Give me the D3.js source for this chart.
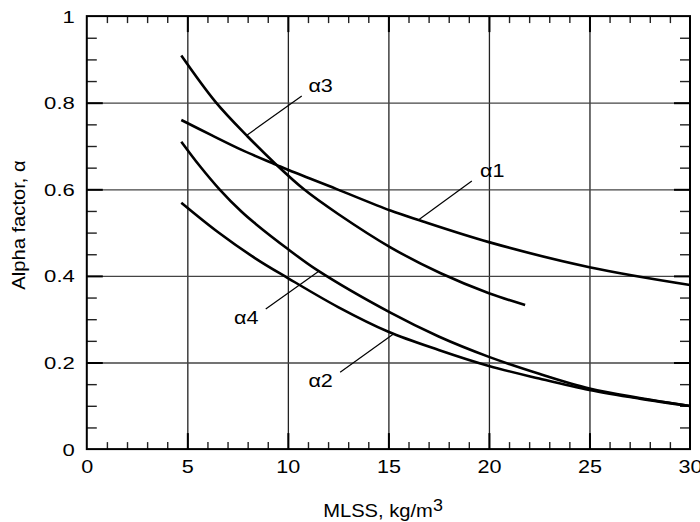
<!DOCTYPE html>
<html><head><meta charset="utf-8">
<script src="https://cdn.jsdelivr.net/npm/d3@7"></script>
<style>
html,body{margin:0;padding:0;background:#fff;}
svg{display:block;}
text{font-family:"Liberation Sans",Arial,Helvetica,sans-serif;fill:#000;}
</style></head><body>
<svg id="chart" width="700" height="522"></svg>
<script>
// ---- data ----
const xTicksMajor = [0, 5, 10, 15, 20, 25, 30];
const xTickLabels = ["0", "5", "10", "15", "20", "25", "30"];
const yTicksMajor = [0, 0.2, 0.4, 0.6, 0.8, 1];
const yTickLabels = ["0", "0.2", "0.4", "0.6", "0.8", "1"];

const mlssA1 = [4.7, 6.2, 7.7, 9.4, 10, 12.4, 15.1, 16.5, 20, 25, 30];
const alphaA1 = [0.760, 0.725, 0.691, 0.657, 0.645, 0.601, 0.551, 0.529, 0.478, 0.420, 0.379];
const mlssA2 = [4.7, 6.5, 8.4, 10, 12.5, 15, 17.5, 20, 22.5, 25, 27.5, 30];
const alphaA2 = [0.569, 0.502, 0.440, 0.395, 0.328, 0.271, 0.229, 0.192, 0.163, 0.1365, 0.1165, 0.0995];
const mlssA3 = [4.7, 6.4, 8, 9.4, 10.8, 12.5, 15.1, 17.6, 20, 21.8];
const alphaA3 = [0.909, 0.802, 0.722, 0.658, 0.600, 0.543, 0.466, 0.406, 0.360, 0.333];
const mlssA4 = [4.7, 5.6, 6.6, 7.7, 8.4, 10, 11.5, 15.1, 17.5, 20, 22.5, 25, 27.5, 30];
const alphaA4 = [0.710, 0.655, 0.600, 0.548, 0.520, 0.462, 0.412, 0.315, 0.260, 0.213, 0.174, 0.140, 0.118, 0.0995];

const seriesNames = ["α1", "α2", "α3", "α4"];
const xTitle = "MLSS, kg/m";
const xTitleSup = "3";
const yTitle = "Alpha factor, α";

// ---- layout ----
const L = 86.8, R = 690, T = 16.1, B = 449.1;
const svg = d3.select("#chart");
const x = d3.scaleLinear().domain([0, 30]).range([L, R]);
const y = d3.scaleLinear().domain([0, 1]).range([B, T]);

const series = [
  {name: seriesNames[0], xs: mlssA1, ys: alphaA1},
  {name: seriesNames[1], xs: mlssA2, ys: alphaA2},
  {name: seriesNames[2], xs: mlssA3, ys: alphaA3},
  {name: seriesNames[3], xs: mlssA4, ys: alphaA4}
];

// annotation placement (data units): label anchor, leader start, leader end
const annot = {
  "α1": {tx: 19.56, ty: 0.629, x1: 19.15, y1: 0.619, x2: 16.49, y2: 0.529},
  "α2": {tx: 11.02, ty: 0.1427, x1: 12.6, y1: 0.1774, x2: 15.25, y2: 0.266},
  "α3": {tx: 11.02, ty: 0.824, x1: 10.69, y1: 0.8155, x2: 7.96, y2: 0.725},
  "α4": {tx: 7.32, ty: 0.289, x1: 8.9, y1: 0.3236, x2: 11.52, y2: 0.41}
};

// ---- gridlines ----
const gridX = xTicksMajor.filter(d => d > 0 && d < 30);
const gridY = yTicksMajor.filter(d => d > 0 && d < 1);
svg.append("g").attr("transform", `translate(0,${B})`)
  .call(d3.axisBottom(x).tickValues(gridX).tickSize(-(B - T)).tickFormat(""))
  .call(g => g.select(".domain").remove())
  .selectAll("line").attr("stroke", "#222").attr("stroke-width", 1.3);
svg.append("g").attr("transform", `translate(${L},0)`)
  .call(d3.axisLeft(y).tickValues(gridY).tickSize(-(R - L)).tickFormat(""))
  .call(g => g.select(".domain").remove())
  .selectAll("line").attr("stroke", "#444").attr("stroke-width", 1.3);

// ---- minor ticks ----
const minorX = d3.range(1, 30).filter(d => d % 5 !== 0);
const minorY = d3.range(1, 20).filter(d => d % 4 !== 0).map(d => d * 0.05);
function minor(gen, tr, len) {
  svg.append("g").attr("transform", tr)
    .call(gen.tickSize(-len).tickFormat(""))
    .call(g => g.select(".domain").remove())
    .selectAll("line").attr("stroke", "#222").attr("stroke-width", 1.4);
}
minor(d3.axisBottom(x).tickValues(minorX), `translate(0,${B})`, 7);
minor(d3.axisTop(x).tickValues(minorX), `translate(0,${T})`, 7);
minor(d3.axisLeft(y).tickValues(minorY), `translate(${L},0)`, 10);
minor(d3.axisRight(y).tickValues(minorY), `translate(${R},0)`, 10);

// major tick stubs (thicker)
function major(gen, tr, len) {
  svg.append("g").attr("transform", tr)
    .call(gen.tickSize(-len).tickFormat(""))
    .call(g => g.select(".domain").remove())
    .selectAll("line").attr("stroke", "#000").attr("stroke-width", 2);
}
major(d3.axisLeft(y).tickValues(gridY), `translate(${L},0)`, 16);
major(d3.axisRight(y).tickValues(gridY), `translate(${R},0)`, 16);
major(d3.axisBottom(x).tickValues(gridX), `translate(0,${B})`, 16);
major(d3.axisTop(x).tickValues(gridX), `translate(0,${T})`, 16);

// ---- frame ----
svg.append("rect").attr("x", L).attr("y", T).attr("width", R - L).attr("height", B - T)
  .attr("fill", "none").attr("stroke", "#000").attr("stroke-width", 2);

// ---- tick labels ----
const xs = 1.2, ys = 1.3;
svg.append("g").attr("transform", `translate(0,${B})`)
  .call(d3.axisBottom(x).tickValues(xTicksMajor).tickFormat((d, i) => xTickLabels[i]).tickSize(0).tickPadding(11))
  .call(g => g.select(".domain").remove())
  .call(g => g.selectAll("line").remove())
  .selectAll("text").attr("font-size", 18).attr("fill", "#000")
  .attr("font-family", "Liberation Sans, Arial, sans-serif")
  .attr("transform", `scale(${xs},1)`);
svg.append("g").attr("transform", `translate(${L},0)`)
  .call(d3.axisLeft(y).tickValues(yTicksMajor).tickFormat((d, i) => yTickLabels[i]).tickSize(0).tickPadding(12))
  .call(g => g.select(".domain").remove())
  .call(g => g.selectAll("line").remove())
  .selectAll("text").attr("font-size", 17).attr("fill", "#000")
  .attr("font-family", "Liberation Sans, Arial, sans-serif")
  .attr("x", -12 / ys).attr("dy", "0.35em")
  .attr("transform", `scale(${ys},1)`);

// ---- curves ----
const line = d3.line().x(d => x(d[0])).y(d => y(d[1])).curve(d3.curveCatmullRom.alpha(0.5));
svg.append("g").selectAll("path").data(series).join("path")
  .attr("d", s => line(s.xs.map((v, i) => [v, s.ys[i]])))
  .attr("fill", "none").attr("stroke", "#000").attr("stroke-width", 2.6)
  .attr("stroke-linecap", "butt");

// ---- annotations ----
const ag = svg.append("g");
series.forEach(s => {
  const a = annot[s.name];
  ag.append("line").attr("x1", x(a.x1)).attr("y1", y(a.y1)).attr("x2", x(a.x2)).attr("y2", y(a.y2))
    .attr("stroke", "#000").attr("stroke-width", 1.2);
  ag.append("text").attr("transform", `translate(${x(a.tx)},${y(a.ty)}) scale(1.2,1)`)
    .attr("font-size", 18).text(s.name);
});

// ---- axis titles ----
const xt = svg.append("text").attr("transform", `translate(383,517) scale(1.12,1)`)
  .attr("text-anchor", "middle").attr("font-size", 18);
xt.append("tspan").text(xTitle);
xt.append("tspan").attr("dy", -6).attr("font-size", 16).text(xTitleSup);
svg.append("text").attr("transform", `translate(25,225) rotate(-90) scale(1.12,1)`)
  .attr("text-anchor", "middle").attr("font-size", 18).text(yTitle);
</script>
</body></html>
